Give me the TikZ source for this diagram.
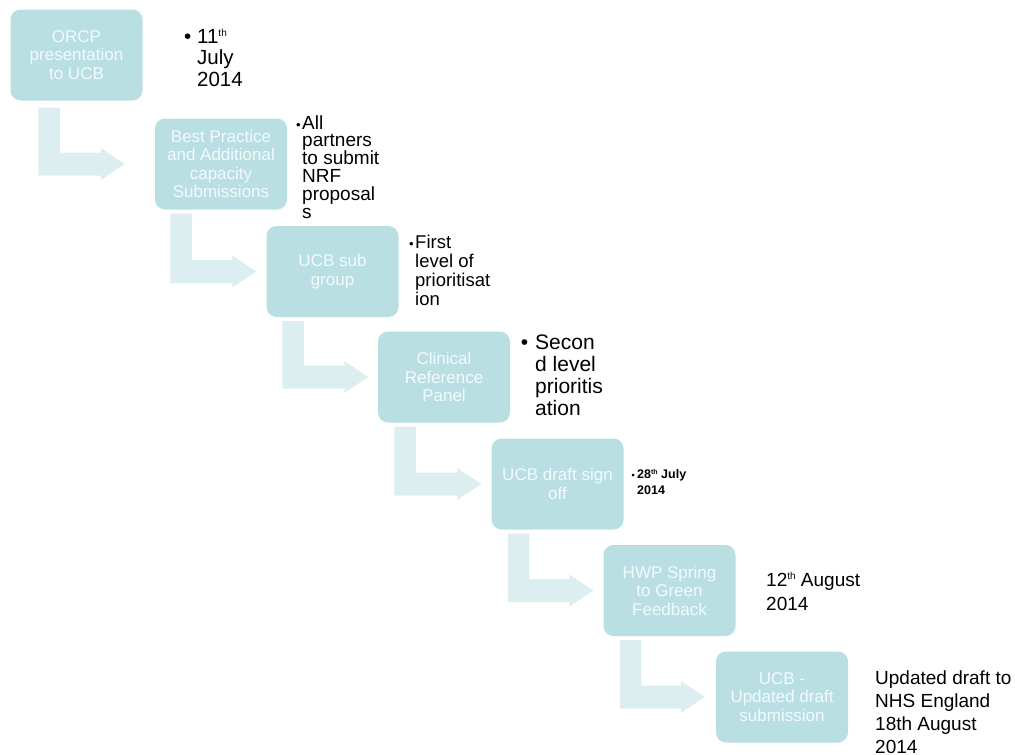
\documentclass[tikz,border=0pt]{standalone}
\usepackage{fontspec}
\setmainfont{Liberation Sans}
\usetikzlibrary{calc}
\definecolor{boxfill}{HTML}{BADFE3}
\definecolor{arrfill}{HTML}{DDEEF1}
\definecolor{boxtext}{HTML}{F2FAFB}
% #1 from node, #2 to node, #3 bar offset from left, #4 gap below, #5 gap before target
\newcommand{\bentarr}[5]{%
  \coordinate (#1pa) at ($(#1.south west)+(#3,#4)$);
  \coordinate (#1pb) at ($(#1.south west)+(#3+21.5,#4)$);
  \coordinate (#1h) at ($(#2.west)+(-#5-24,0)$);
  \coordinate (#1hu) at ($(#2.west)+(-#5-24,-11.5)$);
  \coordinate (#1tip) at ($(#2.west)+(-#5,0)$);
  \fill[arrfill] (#1pa) |- ($(#1h)+(0,11.5)$) -- ($(#1h)+(0,16)$) -- (#1tip)
     -- ($(#1h)+(0,-16)$) -- (#1hu) -- (#1pb |- #1hu) -- (#1pb) -- cycle;
}
\tikzset{
  box/.style={fill=boxfill, rounded corners=10pt, minimum width=132pt,
    minimum height=91pt, inner sep=2pt, align=center, text=boxtext,
    font=\fontsize{17}{18.5}\selectfont},
  note/.style={anchor=base west, inner sep=0pt, align=left, text=black}
}
\begin{document}
\begin{tikzpicture}[x=1pt,y=-1pt]
\useasboundingbox (0,0) rectangle (1015,755);
\node[box] (b1) at (76.5,55) {ORCP\\presentation\\to UCB};
\node[box] (b2) at (221,164) {Best Practice\\and Additional\\capacity\\Submissions};
\node[box] (b3) at (332.5,271.5) {UCB sub\\group};
\node[box] (b4) at (444,377) {Clinical\\Reference\\Panel};
\node[box] (b5) at (557.5,484) {UCB draft sign\\off};
\node[box] (b6) at (669.5,590.5) {HWP Spring\\to Green\\Feedback};
\node[box] (b7) at (782,697) {UCB -\\Updated draft\\submission};
\bentarr{b1}{b2}{28}{7}{30}
\bentarr{b2}{b3}{15.5}{4}{10}
\bentarr{b3}{b4}{16}{4}{9.5}
\bentarr{b4}{b5}{16.5}{4}{10}
\bentarr{b5}{b6}{16.5}{4}{10}
\bentarr{b6}{b7}{16.5}{4}{11}
\node[note, font=\fontsize{20.5}{21.5}\selectfont] (n1) at (197,86)
  {\llap{•\hspace{6pt}}11{\fontsize{10}{10}\selectfont\raisebox{7pt}{th}}\\July\\2014};
\node[note, font=\fontsize{19}{17.8}\selectfont] (n2) at (302,218)
  {\llap{\fontsize{13}{13}\selectfont •\hspace{1.5pt}}All\\partners\\to submit\\NRF\\proposal\\s};
\node[note, font=\fontsize{18.5}{19}\selectfont] (n3) at (415,305)
  {\llap{\fontsize{13}{13}\selectfont •\hspace{1.5pt}}First\\level of\\prioritisat\\ion};
\node[note, font=\fontsize{21}{21.7}\selectfont] (n4) at (535,415)
  {\llap{•\hspace{7pt}}Secon\\d level\\prioritis\\ation};
\node[note, font=\fontsize{12.5}{16.7}\bfseries\selectfont] (n5) at (637,494.7)
  {\llap{\fontsize{9}{9}\selectfont •\hspace{2.5pt}}28{\fontsize{7}{7}\selectfont\raisebox{4pt}{th}} July\\2014};
\node[note, font=\fontsize{19}{24}\selectfont] (n6) at (766,610)
  {12{\fontsize{10}{10}\selectfont\raisebox{6.5pt}{th}} August\\2014};
\node[note, font=\fontsize{19}{22.7}\selectfont] (n7) at (875,753)
  {Updated draft to\\NHS England\\18th August\\2014};
\end{tikzpicture}
\end{document}
